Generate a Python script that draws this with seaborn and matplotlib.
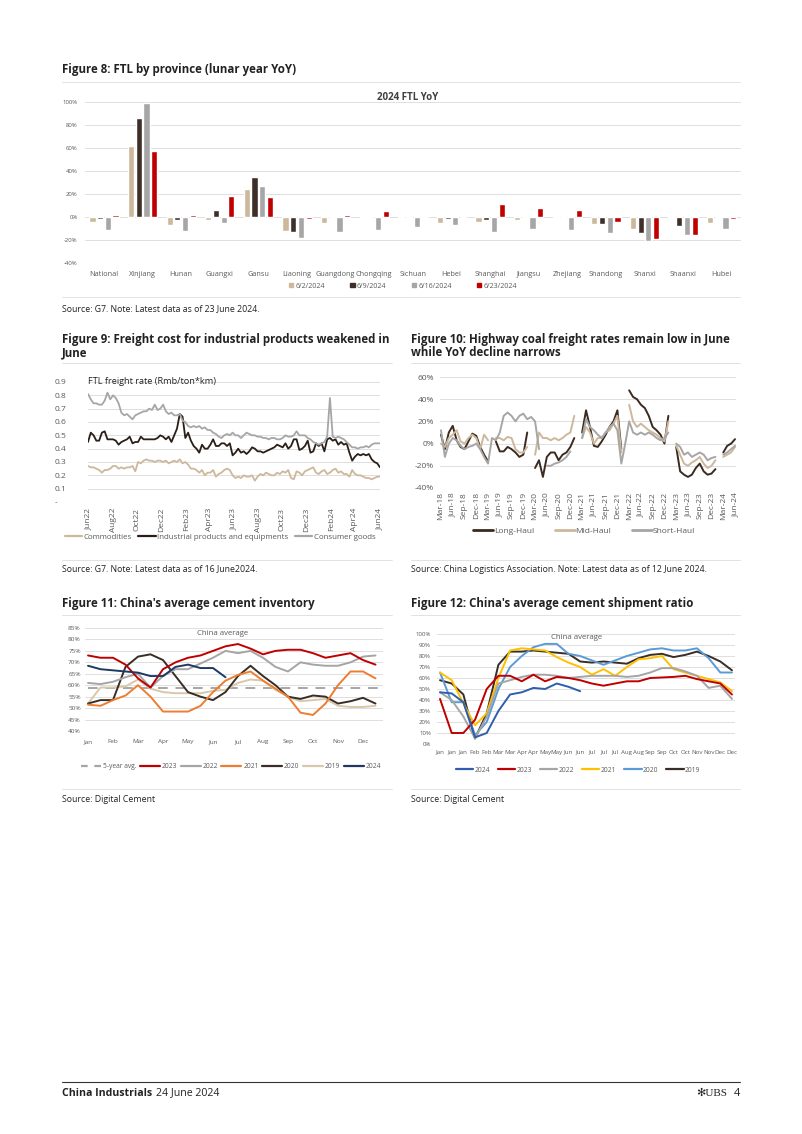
import numpy as np
import pandas as pd
import matplotlib
matplotlib.use('Agg')
import matplotlib.pyplot as plt
import matplotlib.dates as mdates
from matplotlib.lines import Line2D
from matplotlib.patches import Patch
import seaborn as sns

# =================================================================
# DATA
# =================================================================
# --- Figure 8: FTL by province (lunar year YoY, %) ---
provinces = ['National', 'Xinjiang', 'Hunan', 'Guangxi', 'Gansu', 'Liaoning', 'Guangdong',
             'Chongqing', 'Sichuan', 'Hebei', 'Shanghai', 'Jiangsu', 'Zhejiang', 'Shandong',
             'Shanxi', 'Shaanxi', 'Hubei']
week_labels = ['6/2/2024', '6/9/2024', '6/16/2024', '6/23/2024']
yoy_0602 = [-4, 62, -7, -3, 24, -12, -5, -1, 1, -5, -4, -3, 1, -6, -10, -1, -5]
yoy_0609 = [-2, 86, -3, 6, 35, -13, -1, -0.5, -0.5, -2, -3, 1, 1, -6, -14, -8, -1]
yoy_0616 = [-11, 99, -12, -5, 27, -18, -13, -11, -9, -7, -13, -10, -11, -14, -21, -16, -10]
yoy_0623 = [2, 57, 2, 18, 17, -2, 2, 5, 1, -1, 11, 8, 6, -4, -19, -16, -2]

# --- Figure 9: FTL freight rate (Rmb/ton*km), weekly Jun22 - Jun24 ---
fig9_start = '2022-05-30'
commodities = [0.27, 0.26, 0.26, 0.25, 0.24, 0.22, 0.24, 0.24, 0.25, 0.27, 0.27, 0.25, 0.26, 0.25, 0.26, 0.26,
               0.27, 0.23, 0.30, 0.29, 0.31, 0.32, 0.31, 0.31, 0.30, 0.31, 0.31, 0.30, 0.31, 0.29, 0.30, 0.31,
               0.30, 0.32, 0.29, 0.30, 0.28, 0.25, 0.25, 0.24, 0.22, 0.24, 0.20, 0.22, 0.22, 0.24, 0.19, 0.21,
               0.22, 0.24, 0.25, 0.24, 0.20, 0.18, 0.19, 0.18, 0.20, 0.19, 0.19, 0.20, 0.16, 0.19, 0.21, 0.20,
               0.22, 0.21, 0.20, 0.20, 0.22, 0.21, 0.23, 0.22, 0.24, 0.18, 0.17, 0.23, 0.22, 0.20, 0.23, 0.24,
               0.25, 0.26, 0.22, 0.21, 0.23, 0.24, 0.21, 0.22, 0.24, 0.25, 0.22, 0.23, 0.21, 0.21, 0.19, 0.24,
               0.21, 0.20, 0.20, 0.19, 0.18, 0.18, 0.17, 0.18, 0.19, 0.19]
industrial = [0.45, 0.52, 0.50, 0.46, 0.46, 0.52, 0.53, 0.47, 0.47, 0.47, 0.46, 0.43, 0.45, 0.46, 0.47, 0.49,
              0.44, 0.45, 0.45, 0.49, 0.47, 0.47, 0.47, 0.47, 0.47, 0.48, 0.50, 0.49, 0.47, 0.49, 0.45, 0.50,
              0.55, 0.66, 0.64, 0.48, 0.52, 0.46, 0.42, 0.40, 0.37, 0.43, 0.40, 0.40, 0.43, 0.47, 0.42, 0.42,
              0.44, 0.44, 0.42, 0.44, 0.35, 0.37, 0.40, 0.37, 0.38, 0.36, 0.38, 0.41, 0.40, 0.38, 0.38, 0.37,
              0.38, 0.39, 0.40, 0.41, 0.43, 0.42, 0.41, 0.44, 0.40, 0.42, 0.47, 0.47, 0.39, 0.40, 0.42, 0.46,
              0.37, 0.38, 0.44, 0.42, 0.44, 0.38, 0.47, 0.48, 0.46, 0.47, 0.43, 0.45, 0.43, 0.44, 0.37, 0.31,
              0.34, 0.36, 0.35, 0.36, 0.35, 0.36, 0.32, 0.30, 0.29, 0.26]
consumer = [0.81, 0.77, 0.74, 0.74, 0.73, 0.73, 0.76, 0.82, 0.77, 0.80, 0.78, 0.74, 0.67, 0.65, 0.66, 0.64,
            0.62, 0.65, 0.66, 0.67, 0.68, 0.68, 0.70, 0.69, 0.73, 0.69, 0.70, 0.73, 0.68, 0.66, 0.67, 0.65,
            0.65, 0.66, 0.61, 0.60, 0.57, 0.56, 0.57, 0.56, 0.57, 0.55, 0.56, 0.54, 0.54, 0.52, 0.51, 0.49,
            0.48, 0.50, 0.51, 0.50, 0.52, 0.50, 0.50, 0.48, 0.50, 0.52, 0.51, 0.50, 0.50, 0.49, 0.49, 0.48,
            0.48, 0.47, 0.48, 0.48, 0.47, 0.47, 0.48, 0.50, 0.49, 0.49, 0.50, 0.53, 0.50, 0.50, 0.50, 0.48,
            0.47, 0.45, 0.44, 0.43, 0.44, 0.45, 0.49, 0.78, 0.49, 0.48, 0.49, 0.48, 0.47, 0.45, 0.43, 0.41,
            0.41, 0.40, 0.41, 0.41, 0.42, 0.41, 0.43, 0.44, 0.44, 0.44]

# --- Figure 10: highway coal freight YoY (%), monthly Mar-18 - Jun-24 ---
nan = np.nan
long_haul = [8, -5, 10, 16, 3, -3, -5, 2, 9, 7, -3, -10, -16, nan, 2, -7, -7, -3, -5, -8,
             -12, -10, 10, nan, -22, -15, -30, -12, -8, -8, -15, -10, -8, -3, 5, nan, 10, 30, 15, -2,
             -3, 2, 8, 15, 20, 30, -5, nan, 48, 42, 40, 35, 32, 25, 15, 12, 8, 0, 25, nan,
             -3, -25, -28, -30, -28, -22, -18, -25, -28, -27, -23, nan, -8, -2, 0, 4]
mid_haul = [0, -3, 5, 8, 12, 2, 0, 5, 8, 5, -5, 8, 3, nan, 5, 5, 3, 6, 5, -5,
            -8, -8, -3, nan, -10, 10, 5, 5, 3, 5, 3, 5, 8, 10, 25, nan, 5, 15, 10, 0,
            5, 5, 10, 12, 18, 25, -8, nan, 35, 20, 15, 18, 15, 12, 10, 8, 5, 2, 20, nan,
            -2, -10, -18, -20, -17, -15, -12, -18, -22, -20, -15, nan, -12, -10, -8, -3]
short_haul = [12, -12, 0, 5, 3, -2, -5, -3, -2, 0, -5, -12, -18, 5, 3, 10, 25, 28, 25, 20,
              25, 27, 22, 24, 20, -5, nan, -20, -20, -18, -17, -15, -12, -7, nan, nan, 5, 22, 15, 12,
              8, 5, 10, 15, 18, 12, -18, 0, 20, 10, 8, 10, 8, 10, 8, 5, 3, 5, 10, nan,
              0, -3, -10, -8, -12, -10, -8, -10, -15, -13, -12, nan, -10, -8, -5, -2]
fig10_ticks = pd.date_range('2018-03-01', '2024-06-01', freq='3MS').strftime('%b-%y').tolist()

# --- Figure 11: China average cement inventory (%), half-monthly ---
months = ['Jan', 'Feb', 'Mar', 'Apr', 'May', 'Jun', 'Jul', 'Aug', 'Sep', 'Oct', 'Nov', 'Dec']
inv_5yr = 59
inv_2023 = [73, 72, 72, 69, 63, 59, 67, 70, 72, 73, 75, 77, 78, 76, 73.5, 75, 75.5, 75.5, 74, 72, 73, 74, 71, 69]
inv_2022 = [61, 60.5, 61.5, 63.5, 65, 59, 64, 67, 67, 69.5, 72, 75, 74, 75, 72, 68, 66, 70, 69, 68.5, 68.5, 70, 72.5, 73]
inv_2021 = [51.5, 51, 53.5, 55.5, 60, 55, 48.5, 48.5, 48.5, 51, 57, 62, 64.5, 66, 62, 58.5, 55, 48, 47, 52, 60, 66, 66, 63]
inv_2020 = [52, 53.5, 53.5, 68, 72.5, 73.5, 71, 64, 57, 55, 53.5, 57, 64, 68.5, 64, 60, 55, 54, 55.5, 55, 52, 53, 54.5, 52]
inv_2019 = [52, 59, 59, 59.5, 62.5, 58.5, 57, 56.5, 56.5, 56.5, 57.5, 58, 61, 62.5, 62, 58, 55, 53, 53.5, 54, 51, 50.5, 50.5, 51]
inv_2024 = [68.5, 67, 66.5, 66, 65.5, 64, 64, 68, 69, 67.5, 67.5, 63.5]

# --- Figure 12: China average cement shipment ratio (%), bi-weekly ---
ship_ticks = ['Jan', 'Jan', 'Jan', 'Feb', 'Feb', 'Mar', 'Mar', 'Apr', 'Apr', 'May', 'May', 'Jun', 'Jun',
              'Jul', 'Jul', 'Jul', 'Aug', 'Aug', 'Sep', 'Sep', 'Oct', 'Oct', 'Nov', 'Nov', 'Dec', 'Dec']
ship_2024 = [47, 46, 38, 6, 10, 30, 45, 47, 51, 50, 55, 52, 48]
ship_2023 = [41, 10, 10, 22, 50, 62, 62, 57, 63, 57, 61, 60, 58, 55, 53, 55, 57, 57, 60, 60.5, 61, 62, 59, 57, 55, 45]
ship_2022 = [47, 40, 25, 5, 25, 55, 58, 61, 63, 63, 62, 60, 61, 62, 62, 62, 61, 62, 65, 69, 69, 66, 62, 51, 53, 41]
ship_2021 = [65, 58, 37, 17, 28, 60, 85, 87, 86, 85, 79, 74, 70, 63, 68, 62, 70, 77, 78, 80, 68, 65, 62, 59, 56, 48]
ship_2020 = [65, 38, 38, 8, 20, 50, 70, 80, 88, 91, 91, 82, 80, 76, 72, 76, 80, 83, 86, 87, 85, 85, 87, 78, 65, 65]
ship_2019 = [58, 55, 45, 5, 28, 72, 84, 84, 85, 84, 83, 82, 75, 74, 75, 74, 73, 78, 81, 82, 79, 81, 84, 80, 75, 67]

# =================================================================
# LAYOUT HELPERS
# =================================================================
W, H = 802, 1134
sns.set_theme(style='white')
plt.rcParams['font.family'] = ['Open Sans', 'DejaVu Sans']
plt.rcParams['axes.unicode_minus'] = False

TXT = '#222222'
TICK = '#595959'
GRID = '#D9D9D9'

fig = plt.figure(figsize=(W / 100, H / 100), dpi=100)


def add_ax(x0, y0, x1, y1):
    return fig.add_axes([x0 / W, 1 - y1 / H, (x1 - x0) / W, (y1 - y0) / H])


def ftext(x, y, s, **kw):
    kw.setdefault('va', 'center')
    kw.setdefault('color', TXT)
    return fig.text(x / W, 1 - y / H, s, **kw)


def hline(x0, x1, y, color='#DDDDDD', lw=0.6):
    fig.add_artist(Line2D([x0 / W, x1 / W], [1 - y / H, 1 - y / H], color=color, lw=lw))


def style_ax(ax, size):
    for s in ax.spines.values():
        s.set_visible(False)
    ax.grid(axis='y', color=GRID, lw=0.6)
    ax.grid(axis='x', visible=False)
    ax.set_axisbelow(True)
    ax.tick_params(axis='both', length=0, labelsize=size, labelcolor=TICK)
    ax.set_xlabel('')
    ax.set_ylabel('')


def segments(x, y, name):
    s = pd.Series(y, dtype=float)
    seg = s.isna().cumsum()
    d = pd.DataFrame({'x': list(x), 'value': s, 'series': name,
                      'seg': [f'{name}_{k}' for k in seg]})
    return d.dropna(subset=['value'])


TITLE_KW = dict(fontsize=8.3, fontweight='bold', ha='left')
SRC_KW = dict(fontsize=6.3, ha='left')

# =================================================================
# FIGURE 8
# =================================================================
ftext(62, 70, 'Figure 8: FTL by province (lunar year YoY)', **TITLE_KW)
hline(62, 740, 82)

df8 = pd.DataFrame({'province': provinces * 4,
                    'week': sum([[w] * len(provinces) for w in week_labels], []),
                    'yoy': yoy_0602 + yoy_0609 + yoy_0616 + yoy_0623})
pal8 = dict(zip(week_labels, ['#CDB89B', '#3E3028', '#A6A6A6', '#C00000']))
ax8 = add_ax(84.7, 102, 741, 263)
sns.barplot(data=df8, x='province', y='yoy', hue='week', palette=pal8, ax=ax8,
            width=0.8, gap=0.2, legend=False, saturation=1)
ax8.set_ylim(-40, 100)
ax8.set_xlim(-0.5, len(provinces) - 0.5)
ax8.set_yticks(range(-40, 101, 20))
ax8.set_yticklabels([f'{v}%' for v in range(-40, 101, 20)])
style_ax(ax8, 4.3)
ax8.tick_params(axis='x', labelsize=5.2, pad=6)
ax8.tick_params(axis='y', pad=5)
ftext(408, 97, '2024 FTL YoY', fontsize=7, fontweight='bold', ha='center', color='#404040')
h8 = [Patch(color=pal8[w]) for w in week_labels]
fig.legend(h8, week_labels, loc='center', bbox_to_anchor=(403 / W, 1 - 286 / H), ncol=4,
           frameon=False, fontsize=5, handlelength=0.6, handleheight=0.6, handletextpad=0.3,
           columnspacing=3.7, labelcolor=TICK)
hline(62, 740, 297)
ftext(62, 309, 'Source: G7. Note: Latest data as of 23 June 2024.', **SRC_KW)

# =================================================================
# FIGURE 9
# =================================================================
ftext(62, 339, 'Figure 9: Freight cost for industrial products weakened in', **TITLE_KW)
ftext(62, 353, 'June', **TITLE_KW)
hline(62, 392, 363)

dates9 = pd.date_range(fig9_start, periods=len(consumer), freq='7D')
df9 = pd.concat([
    pd.DataFrame({'date': dates9, 'value': commodities, 'series': 'Commodities'}),
    pd.DataFrame({'date': dates9, 'value': industrial, 'series': 'Industrial products and equipments'}),
    pd.DataFrame({'date': dates9, 'value': consumer, 'series': 'Consumer goods'}),
])
pal9 = {'Commodities': '#CDB89B', 'Industrial products and equipments': '#2A1E17',
        'Consumer goods': '#A6A6A6'}
ax9 = add_ax(88, 382, 380, 502)
sns.lineplot(data=df9, x='date', y='value', hue='series', palette=pal9, ax=ax9,
             legend=False, linewidth=1.3, estimator=None)
ax9.set_ylim(0, 0.9)
ax9.set_xlim(dates9[0], dates9[-1])
ax9.set_yticks(np.arange(0, 0.91, 0.1))
ax9.set_yticklabels(['-'] + [f'{v / 10:.1f}' for v in range(1, 10)])
ax9.xaxis.set_major_locator(mdates.MonthLocator(bymonth=[2, 4, 6, 8, 10, 12]))
ax9.xaxis.set_major_formatter(mdates.DateFormatter('%b%y'))
style_ax(ax9, 6)
ax9.tick_params(axis='x', rotation=90, pad=4)
ax9.tick_params(axis='y', pad=8)
for t in ax9.get_yticklabels():
    t.set_ha('left')
    t.set_x(-0.075)
ax9.text(0.0, 0.9, 'FTL freight rate (Rmb/ton*km)', transform=ax9.get_yaxis_transform(),
         fontsize=6.6, color=TXT, va='center', ha='left')
h9 = [Line2D([], [], color=c, lw=1.6) for c in pal9.values()]
fig.legend(h9, list(pal9.keys()), loc='center', bbox_to_anchor=(220 / W, 1 - 537 / H), ncol=3,
           frameon=False, fontsize=5.7, handlelength=2.2, handletextpad=0.2, columnspacing=0.8,
           labelcolor=TICK)
hline(62, 392, 560)
ftext(62, 569, 'Source: G7. Note: Latest data as of 16 June2024.', **SRC_KW)

# =================================================================
# FIGURE 10
# =================================================================
ftext(411, 339, 'Figure 10: Highway coal freight rates remain low in June', **TITLE_KW)
ftext(411, 353, 'while YoY decline narrows', **TITLE_KW)
hline(411, 740, 363)

x10 = range(len(long_haul))
df10 = pd.concat([segments(x10, long_haul, 'Long-Haul'),
                  segments(x10, mid_haul, 'Mid-Haul'),
                  segments(x10, short_haul, 'Short-Haul')])
pal10 = {'Long-Haul': '#3B2A1F', 'Mid-Haul': '#CDB89B', 'Short-Haul': '#A6A6A6'}
ax10 = add_ax(439.8, 377, 736.2, 488)
sns.lineplot(data=df10, x='x', y='value', hue='series', units='seg', estimator=None,
             palette=pal10, ax=ax10, legend=False, linewidth=1.4)
ax10.set_ylim(-40, 60)
ax10.set_xlim(-0.3, len(long_haul) - 0.7)
ax10.set_yticks(range(-40, 61, 20))
ax10.set_yticklabels([f'{v}%' for v in range(-40, 61, 20)])
ax10.set_xticks(range(0, len(long_haul), 3))
ax10.set_xticklabels(fig10_ticks)
style_ax(ax10, 6)
ax10.tick_params(axis='x', rotation=90, pad=3)
ax10.tick_params(axis='y', pad=4)
h10 = [Line2D([], [], color=c, lw=2) for c in pal10.values()]
fig.legend(h10, list(pal10.keys()), loc='center', bbox_to_anchor=(584 / W, 1 - 531 / H), ncol=3,
           frameon=False, fontsize=6, handlelength=2.4, handletextpad=0.1, columnspacing=2.5,
           labelcolor=TICK)
hline(411, 740, 560)
ftext(411, 569, 'Source: China Logistics Association. Note: Latest data as of 12 June 2024.', **SRC_KW)

# =================================================================
# FIGURE 11
# =================================================================
ftext(62, 604, "Figure 11: China's average cement inventory", **TITLE_KW)
hline(62, 392, 615)

x11 = [i / 2 for i in range(len(inv_2023))]
order11 = ['5-year avg.', '2023', '2022', '2021', '2020', '2019', '2024']
pal11 = {'5-year avg.': '#A6A6A6', '2023': '#C00000', '2022': '#A5A5A5', '2021': '#ED7D31',
         '2020': '#3A2D25', '2019': '#D9C7A9', '2024': '#1F3864'}
df11 = pd.concat([
    pd.DataFrame({'x': x11, 'value': inv_2019, 'series': '2019'}),
    pd.DataFrame({'x': x11, 'value': inv_2020, 'series': '2020'}),
    pd.DataFrame({'x': x11, 'value': inv_2021, 'series': '2021'}),
    pd.DataFrame({'x': x11, 'value': inv_2022, 'series': '2022'}),
    pd.DataFrame({'x': x11, 'value': inv_2023, 'series': '2023'}),
    pd.DataFrame({'x': x11[:len(inv_2024)], 'value': inv_2024, 'series': '2024'}),
])
ax11 = add_ax(85, 628, 383, 731)
sns.lineplot(data=pd.DataFrame({'x': [x11[0], x11[-1] + 0.25], 'value': [inv_5yr, inv_5yr]}),
             x='x', y='value', ax=ax11, color=pal11['5-year avg.'], lw=1.4, linestyle=(0, (5, 4)))
sns.lineplot(data=df11, x='x', y='value', hue='series', palette=pal11, ax=ax11,
             legend=False, linewidth=1.4, estimator=None)
ax11.set_ylim(40, 85)
ax11.set_xlim(-0.12, 11.8)
ax11.set_yticks(range(40, 86, 5))
ax11.set_yticklabels([f'{v}%' for v in range(40, 86, 5)])
ax11.set_xticks(range(12))
ax11.set_xticklabels(months)
style_ax(ax11, 4.6)
ax11.tick_params(axis='x', pad=6)
ax11.tick_params(axis='y', pad=3)
ax11.text(0.46, 0.945, 'China average', transform=ax11.transAxes, fontsize=5.6, color=TICK,
          ha='center', va='center')
h11 = [Line2D([], [], color=pal11[k], lw=1.6, linestyle=(0, (3, 3)) if k == '5-year avg.' else '-')
       for k in order11]
fig.legend(h11, order11, loc='center', bbox_to_anchor=(231 / W, 1 - 767 / H), ncol=7,
           frameon=False, fontsize=4.8, handlelength=3, handletextpad=0.3, columnspacing=0.5,
           labelcolor=TICK)
hline(62, 392, 789)
ftext(62, 800, 'Source: Digital Cement', **SRC_KW)

# =================================================================
# FIGURE 12
# =================================================================
ftext(411, 604, "Figure 12: China's average cement shipment ratio", **TITLE_KW)
hline(411, 740, 615)

x12 = list(range(len(ship_ticks)))
order12 = ['2024', '2023', '2022', '2021', '2020', '2019']
pal12 = {'2024': '#2F5EAD', '2023': '#C00000', '2022': '#A5A5A5', '2021': '#FFC000',
         '2020': '#5B9BD5', '2019': '#3A2D25'}
df12 = pd.concat([
    pd.DataFrame({'x': x12, 'value': ship_2019, 'series': '2019'}),
    pd.DataFrame({'x': x12, 'value': ship_2020, 'series': '2020'}),
    pd.DataFrame({'x': x12, 'value': ship_2021, 'series': '2021'}),
    pd.DataFrame({'x': x12, 'value': ship_2022, 'series': '2022'}),
    pd.DataFrame({'x': x12, 'value': ship_2023, 'series': '2023'}),
    pd.DataFrame({'x': x12[:len(ship_2024)], 'value': ship_2024, 'series': '2024'}),
])
ax12 = add_ax(436.5, 634, 735.5, 744)
sns.lineplot(data=df12, x='x', y='value', hue='series', palette=pal12, ax=ax12,
             legend=False, linewidth=1.4, estimator=None)
ax12.set_ylim(0, 100)
ax12.set_xlim(-0.3, len(ship_ticks) - 0.7)
ax12.set_yticks(range(0, 101, 10))
ax12.set_yticklabels([f'{v}%' for v in range(0, 101, 10)])
ax12.set_xticks(x12)
ax12.set_xticklabels(ship_ticks)
style_ax(ax12, 4.4)
ax12.tick_params(axis='x', pad=4)
ax12.tick_params(axis='y', pad=4)
ax12.text(0.47, 0.965, 'China average', transform=ax12.transAxes, fontsize=5.6, color=TICK,
          ha='center', va='center')
h12 = [Line2D([], [], color=pal12[k], lw=1.6) for k in order12]
fig.legend(h12, order12, loc='center', bbox_to_anchor=(578 / W, 1 - 770 / H), ncol=6,
           frameon=False, fontsize=4.8, handlelength=2.6, handletextpad=0.2, columnspacing=1.2,
           labelcolor=TICK)
hline(411, 740, 789)
ftext(411, 800, 'Source: Digital Cement', **SRC_KW)

# =================================================================
# FOOTER
# =================================================================
hline(62, 740, 1082, color='#333333', lw=0.8)
ftext(62, 1093, 'China Industrials', fontsize=7.6, fontweight='bold', ha='left')
ftext(156, 1093, '24 June 2024', fontsize=7.6, ha='left')
ftext(712, 1093, '\u273bUBS', fontsize=8, ha='center',
      family=['Liberation Serif', 'DejaVu Sans'])
ftext(740, 1093, '4', fontsize=8, ha='right')

fig.savefig('out.png', dpi=100, facecolor='white')
